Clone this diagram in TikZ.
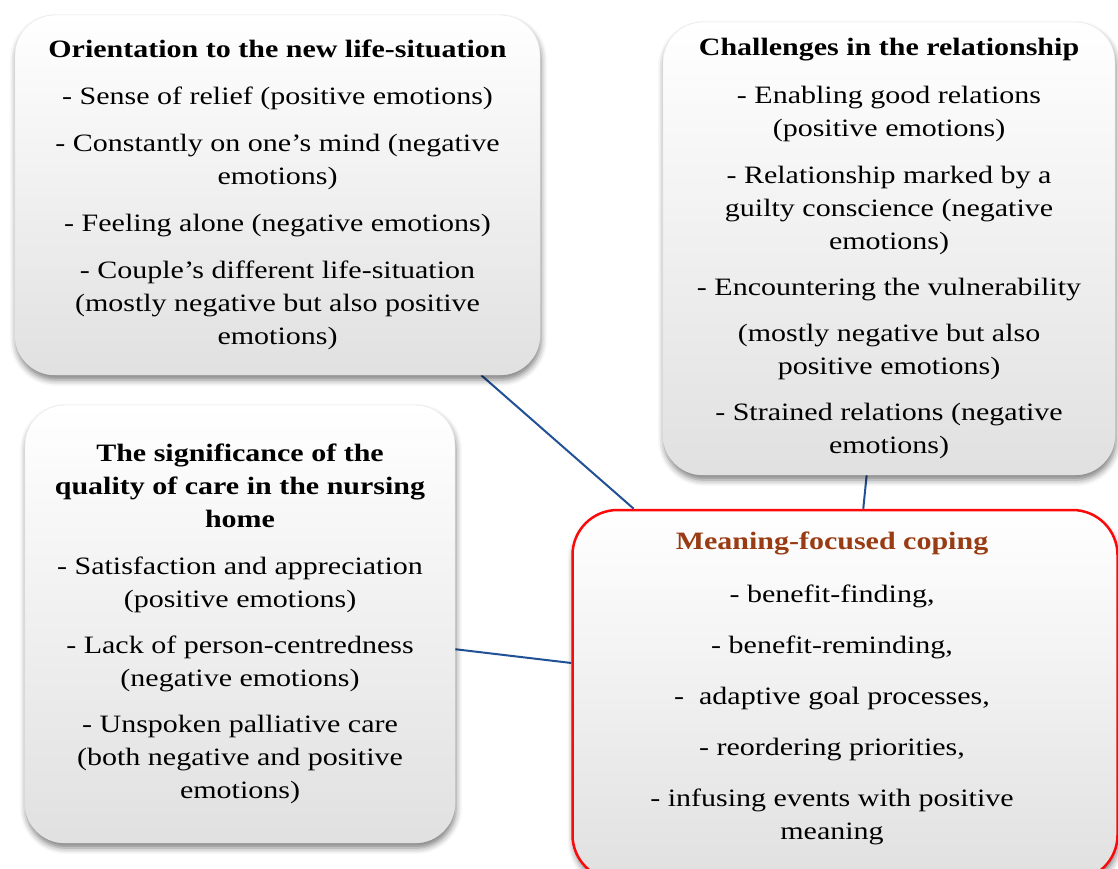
\documentclass[tikz,border=0pt]{standalone}
\usepackage{fontspec}
\setmainfont{Liberation Serif}[FakeStretch=1.2]
\usepackage{tikz}
\usetikzlibrary{positioning,backgrounds,shadows.blur}

\definecolor{linkblue}{RGB}{32,80,150}
\definecolor{cardred}{RGB}{250,10,10}
\definecolor{titlebrown}{RGB}{153,60,20}

\begin{document}
\begin{tikzpicture}[
        x=1pt, y=-1pt,
        font=\fontsize{25}{33}\selectfont,
        card/.style={rectangle, rounded corners=40pt, align=center, inner sep=0pt,
                     top color=white, bottom color=black!12, draw=black!10,
                     blur shadow={shadow xshift=1pt, shadow yshift=-5pt,
                                  shadow blur radius=6pt, shadow opacity=50}},
        core/.style={card, draw=cardred, line width=2.5pt, rounded corners=45pt},
        link/.style={draw=linkblue, line width=2pt},
    ]
        \useasboundingbox (0,0) rectangle (1118,868);

        % themes
        \node[card, minimum width=525pt, minimum height=360pt] (orient) at (277.5,195)
            {\textbf{Orientation to the new life-situation}\\[14pt]
             - Sense of relief (positive emotions)\\[14pt]
             - Constantly on one’s mind (negative\\ emotions)\\[14pt]
             - Feeling alone (negative emotions)\\[14pt]
             - Couple’s different life-situation\\ (mostly negative but also positive\\ emotions)};

        \node[card, minimum width=452pt, minimum height=453pt] (relat) at (889,248.5)
            {\textbf{Challenges in the relationship}\\[15pt]
             - Enabling good relations\\ (positive emotions)\\[14pt]
             - Relationship marked by a\\ guilty conscience (negative\\ emotions)\\[13pt]
             - Encountering the vulnerability\\[13pt]
             (mostly negative but also\\ positive emotions)\\[13pt]
             - Strained relations (negative\\ emotions)};

        \node[card, minimum width=430pt, minimum height=438pt] (care) at (240,624)
            {\textbf{The significance of the}\\ \textbf{quality of care in the nursing}\\ \textbf{home}\\[14pt]
             - Satisfaction and appreciation\\ (positive emotions)\\[13pt]
             - Lack of person-centredness\\ (negative emotions)\\[13pt]
             - Unspoken palliative care\\ (both negative and positive\\ emotions)};

        % coping strategy (text sits a little left of and above the middle)
        \node[core, minimum width=545pt, minimum height=370pt] (coping) at (845,695)
            {\begin{tabular}{@{}c@{}}
             \textcolor{titlebrown}{\textbf{Meaning-focused coping}}\\[20pt]
             - benefit-finding,\\[18pt]
             - benefit-reminding,\\[18pt]
             -\ \ adaptive goal processes,\\[18pt]
             - reordering priorities,\\[18pt]
             - infusing events with positive\\ meaning\\[14pt]
             \end{tabular}\hspace*{26pt}};

        \begin{scope}[on background layer]
            \draw[link] (orient) -- (coping);
            \draw[link] (relat) -- (coping);
            \draw[link] (care) -- (coping);
        \end{scope}
    \end{tikzpicture}
\end{document}
